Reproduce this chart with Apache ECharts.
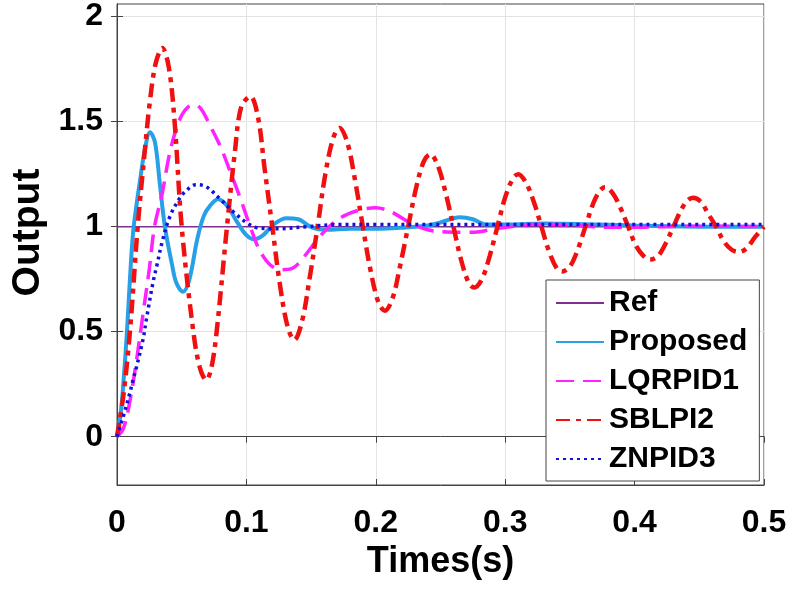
<!DOCTYPE html>
<html>
<head>
<meta charset="utf-8">
<script src="https://cdn.jsdelivr.net/npm/echarts@6/dist/echarts.min.js"></script>
<style>
html,body{margin:0;padding:0;background:#fff;}
#chart{width:789px;height:589px;}
</style>
</head>
<body>
<div id="chart"></div>
<script>
const seriesNames = ['Ref', 'Proposed', 'LQRPID1', 'SBLPI2', 'ZNPID3'];
const xTicks = [0, 0.1, 0.2, 0.3, 0.4, 0.5];
const yTicks = [0, 0.5, 1, 1.5, 2];

const ref = [[0, 1], [0.5, 1]];

const proposed = [[0,0],[0.003,0.12],[0.005,0.26],[0.0077,0.5],[0.010,0.75],[0.0124,0.97],[0.015,1.10],[0.0178,1.22],
  [0.0216,1.37],[0.0255,1.45],[0.0294,1.40],[0.033,1.21],[0.037,1.0],[0.0425,0.82],[0.046,0.73],[0.051,0.69],
  [0.056,0.75],[0.062,0.94],[0.067,1.05],[0.072,1.10],[0.078,1.13],[0.085,1.10],[0.093,1.02],[0.100,0.96],
  [0.106,0.94],[0.113,0.96],[0.121,1.01],[0.131,1.04],[0.140,1.035],[0.151,0.995],[0.162,0.985],[0.180,0.99],
  [0.200,0.99],[0.220,0.995],[0.240,1.005],[0.250,1.02],[0.265,1.045],[0.275,1.035],[0.285,1.01],[0.300,1.01],
  [0.330,1.015],[0.360,1.012],[0.400,1.005],[0.450,1.0],[0.500,1.0]];

const lqrpid1 = [[0,0],[0.005,0.04],[0.010,0.17],[0.015,0.36],[0.020,0.58],[0.025,0.80],[0.029,1.0],[0.035,1.16],
  [0.040,1.33],[0.045,1.45],[0.050,1.53],[0.055,1.57],[0.060,1.58],[0.065,1.56],[0.072,1.48],[0.080,1.38],
  [0.087,1.27],[0.095,1.14],[0.103,1.0],[0.110,0.89],[0.118,0.82],[0.127,0.795],[0.135,0.80],[0.145,0.86],
  [0.155,0.94],[0.164,1.0],[0.175,1.05],[0.188,1.08],[0.200,1.09],[0.212,1.07],[0.226,1.02],[0.240,0.985],
  [0.255,0.975],[0.270,0.973],[0.280,0.976],[0.292,0.99],[0.304,1.0],[0.320,1.01],[0.340,1.01],[0.360,1.003],
  [0.380,0.997],[0.400,0.997],[0.420,1.0],[0.450,1.002],[0.500,1.0]];

const sblpi2 = [[0,0],[0.005,0.2],[0.010,0.5],[0.016,1.0],[0.021,1.33],[0.0255,1.6],[0.030,1.78],[0.035,1.85],
  [0.040,1.76],[0.0445,1.5],[0.050,1.0],[0.059,0.5],[0.064,0.33],[0.069,0.27],[0.073,0.33],[0.077,0.5],
  [0.085,1.0],[0.091,1.35],[0.096,1.57],[0.103,1.62],[0.109,1.52],[0.114,1.28],[0.120,1.0],[0.126,0.72],
  [0.132,0.52],[0.137,0.46],[0.143,0.55],[0.149,0.76],[0.155,1.0],[0.161,1.25],[0.167,1.42],[0.172,1.47],
  [0.178,1.40],[0.184,1.22],[0.190,1.0],[0.196,0.79],[0.202,0.64],[0.207,0.60],[0.213,0.66],[0.219,0.82],
  [0.225,1.0],[0.231,1.18],[0.237,1.31],[0.242,1.345],[0.248,1.29],[0.254,1.16],[0.260,1.0],[0.266,0.84],
  [0.272,0.73],[0.276,0.71],[0.282,0.75],[0.288,0.86],[0.294,1.0],[0.300,1.14],[0.306,1.23],[0.310,1.25],
  [0.316,1.21],[0.322,1.12],[0.328,1.0],[0.334,0.88],[0.340,0.80],[0.344,0.787],[0.350,0.81],[0.356,0.89],
  [0.362,1.0],[0.368,1.11],[0.373,1.17],[0.377,1.188],[0.383,1.16],[0.389,1.09],[0.395,1.0],[0.401,0.91],
  [0.407,0.86],[0.412,0.843],[0.418,0.86],[0.424,0.92],[0.430,1.0],[0.436,1.08],[0.441,1.125],[0.445,1.138],
  [0.451,1.12],[0.457,1.06],[0.463,1.0],[0.469,0.93],[0.475,0.89],[0.481,0.88],[0.487,0.90],[0.493,0.95],[0.500,1.0]];

const znpid3 = [[0,0],[0.0025,0.05],[0.005,0.10],[0.010,0.21],[0.0124,0.27],[0.015,0.33],[0.020,0.46],[0.023,0.57],
  [0.028,0.74],[0.031,0.82],[0.035,0.93],[0.041,1.05],[0.049,1.14],[0.055,1.18],[0.061,1.20],[0.069,1.19],
  [0.080,1.13],[0.090,1.07],[0.100,1.02],[0.108,0.995],[0.124,0.99],[0.147,1.0],[0.170,1.01],[0.200,1.01],
  [0.250,1.01],[0.300,1.01],[0.350,1.01],[0.400,1.01],[0.450,1.01],[0.500,1.01]];

const colors = ['#7e2f8e', '#27a0e8', '#ff22ff', '#f01010', '#1010e0'];

const chart = echarts.init(document.getElementById('chart'), null, {renderer: 'canvas'});
const FONT = 'Liberation Sans';
const gridLine = {show: true, lineStyle: {color: '#e3e3e3', width: 1}};

const option = {
  animation: false,
  backgroundColor: '#fff',
  grid: {left: 117, right: 25, top: 4, bottom: 104, show: true, borderColor: '#444', borderWidth: 1,
    backgroundColor: 'transparent', containLabel: false, outerBoundsMode: 'none'},
  xAxis: [{
    type: 'value', min: 0, max: 0.5, interval: 0.1,
    name: 'Times(s)', nameLocation: 'middle', nameGap: 58,
    nameTextStyle: {fontFamily: FONT, fontWeight: 'bold', fontSize: 36, color: '#000'},
    axisLine: {show: true, onZero: false, lineStyle: {color: '#444'}},
    axisTick: {show: true, inside: true, length: 6, lineStyle: {color: '#444'}},
    axisLabel: {fontFamily: FONT, fontWeight: 'bold', fontSize: 32, color: '#000', margin: 22,
      formatter: v => String(xTicks.find(t => Math.abs(t - v) < 1e-9) ?? v)},
    splitLine: gridLine
  }, {
    type: 'value', min: 0, max: 0.5, interval: 0.1, position: 'top',
    axisLine: {show: true, lineStyle: {color: '#444'}},
    axisTick: {show: true, inside: true, length: 6, lineStyle: {color: '#444'}},
    axisLabel: {show: false}, splitLine: {show: false}
  }],
  yAxis: [{
    type: 'value', min: -0.23, max: 2.06,
    name: 'Output', nameLocation: 'middle', nameGap: 67, nameRotate: 90,
    nameTextStyle: {fontFamily: FONT, fontWeight: 'bold', fontSize: 39, color: '#000', padding: [0, 0, 0, 24]},
    axisLine: {show: true, onZero: false, lineStyle: {color: '#444'}},
    axisTick: {show: true, inside: true, length: 6, lineStyle: {color: '#444'}, customValues: yTicks},
    axisLabel: {fontFamily: FONT, fontWeight: 'bold', fontSize: 32, color: '#000', margin: 14, customValues: yTicks},
    splitLine: gridLine
  }, {
    type: 'value', min: -0.23, max: 2.06, position: 'right',
    axisLine: {show: true, lineStyle: {color: '#444'}},
    axisTick: {show: true, inside: true, length: 6, lineStyle: {color: '#444'}, customValues: yTicks},
    axisLabel: {show: false, customValues: yTicks}, splitLine: {show: false}
  }],
  legend: {
    orient: 'vertical', left: 546, top: 280,
    data: seriesNames,
    backgroundColor: '#fff', borderColor: '#444', borderWidth: 1,
    padding: [8, 12, 7, 9], itemGap: 9, itemWidth: 48, itemHeight: 14,
    itemStyle: {opacity: 0},
    textStyle: {fontFamily: FONT, fontWeight: 'bold', fontSize: 30, color: '#000', lineHeight: 30}
  },
  series: [
    {name: seriesNames[0], type: 'line', data: ref, showSymbol: false, symbol: 'none', color: colors[0],
      lineStyle: {width: 1.5, color: colors[0]}},
    {name: seriesNames[1], type: 'line', data: proposed, showSymbol: false, symbol: 'none', smooth: 0.35, color: colors[1],
      lineStyle: {width: 4, color: colors[1]}},
    {name: seriesNames[2], type: 'line', data: lqrpid1, showSymbol: false, symbol: 'none', smooth: 0.35, color: colors[2],
      lineStyle: {width: 3.5, color: colors[2], type: [18, 9]}},
    {name: seriesNames[3], type: 'line', data: sblpi2, showSymbol: false, symbol: 'none', smooth: 0.35, color: colors[3],
      lineStyle: {width: 4.5, color: colors[3], type: [14, 6, 5, 6]}},
    {name: seriesNames[4], type: 'line', data: znpid3, showSymbol: false, symbol: 'none', smooth: 0.35, color: colors[4],
      lineStyle: {width: 3.5, color: colors[4], type: [3, 4]}}
  ]
};
chart.setOption(option);
</script>
</body>
</html>
